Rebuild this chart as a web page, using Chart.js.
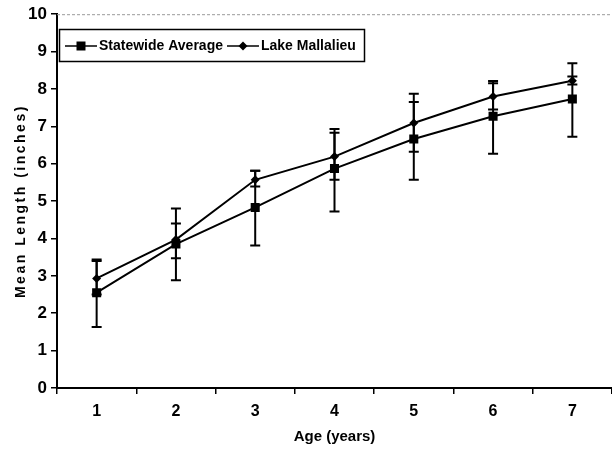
<!DOCTYPE html>
<html>
<head>
<meta charset="utf-8">
<script src="https://cdn.jsdelivr.net/npm/chart.js@4"></script>
<style>
html,body{margin:0;padding:0;background:#fff;}
#wrap{width:612px;height:452px;position:relative;}
</style>
</head>
<body>
<div id="wrap"><canvas id="c" width="612" height="452"></canvas></div>
<script>
const ages = ['1','2','3','4','5','6','7'];
const yTicks = [0,1,2,3,4,5,6,7,8,9,10];
const statewide = [2.55, 3.85, 4.83, 5.87, 6.66, 7.27, 7.73];
const statewideLow = [1.63, 2.88, 3.81, 4.72, 5.57, 6.27, 6.72];
const statewideHigh = [3.44, 4.80, 5.81, 6.93, 7.87, 8.21, 8.69];
const lake = [2.93, 3.97, 5.57, 6.19, 7.09, 7.80, 8.22];
const lakeLow = [2.50, 3.47, 5.39, 5.57, 6.32, 7.45, 8.12];
const lakeHigh = [3.40, 4.40, 5.81, 6.83, 7.65, 8.15, 8.33];

const FONT = '"Liberation Sans", Arial, sans-serif';

const errorBars = {
  id: 'errorBars',
  afterDatasetsDraw(chart) {
    const ctx = chart.ctx;
    const y = chart.scales.y;
    chart.data.datasets.forEach((ds, i) => {
      const meta = chart.getDatasetMeta(i);
      meta.data.forEach((pt, j) => {
        const yl = y.getPixelForValue(ds.errLow[j]);
        const yh = y.getPixelForValue(ds.errHigh[j]);
        ctx.save();
        ctx.strokeStyle = '#000';
        ctx.lineWidth = 2;
        ctx.beginPath();
        ctx.moveTo(pt.x, yl); ctx.lineTo(pt.x, yh);
        ctx.moveTo(pt.x - 5, yl); ctx.lineTo(pt.x + 5, yl);
        ctx.moveTo(pt.x - 5, yh); ctx.lineTo(pt.x + 5, yh);
        ctx.stroke();
        ctx.restore();
      });
    });
  }
};

function drawMarker(ctx, style, x, y) {
  ctx.beginPath();
  if (style === 'rect') {
    ctx.rect(x - 4.5, y - 4.5, 9, 9);
  } else {
    ctx.moveTo(x, y - 4.5); ctx.lineTo(x + 4.5, y); ctx.lineTo(x, y + 4.5); ctx.lineTo(x - 4.5, y); ctx.closePath();
  }
  ctx.fill();
}

const decor = {
  id: 'decor',
  afterDraw(chart) {
    const ctx = chart.ctx;
    const a = chart.chartArea;
    ctx.save();
    // faint top border
    ctx.strokeStyle = '#9a9a9a';
    ctx.lineWidth = 1;
    ctx.setLineDash([3, 2]);
    ctx.beginPath(); ctx.moveTo(a.left, a.top + 0.5); ctx.lineTo(612, a.top + 0.5); ctx.stroke();
    ctx.setLineDash([]);
    // y title with letter spacing
    ctx.fillStyle = '#000';
    ctx.font = 'bold 14px ' + FONT;
    if ('letterSpacing' in ctx) ctx.letterSpacing = '2.5px';
    ctx.translate(21, (a.top + a.bottom) / 2);
    ctx.rotate(-Math.PI / 2);
    ctx.textAlign = 'center';
    ctx.textBaseline = 'middle';
    ctx.fillText('Mean Length (inches)', 0, 0);
    ctx.restore();

    // legend
    ctx.save();
    const bx = 59, by = 29, bw = 305, bh = 32;
    ctx.fillStyle = '#fff';
    ctx.fillRect(bx, by, bw, bh);
    ctx.strokeStyle = '#000';
    ctx.lineWidth = 1.5;
    ctx.strokeRect(bx + 0.5, by + 0.5, bw, bh);
    const cy = by + bh / 2 + 1;
    ctx.font = 'bold 14px ' + FONT;
    ctx.textBaseline = 'middle';
    ctx.fillStyle = '#000';
    let x = bx + 6;
    chart.data.datasets.forEach((ds, i) => {
      ctx.lineWidth = 1.5;
      ctx.beginPath(); ctx.moveTo(x, cy); ctx.lineTo(x + 32, cy); ctx.stroke();
      drawMarker(ctx, ds.pointStyle, x + 16, cy);
      ctx.fillText(ds.label, x + 34, cy);
      x += 34 + ctx.measureText(ds.label).width + 4;
    });
    ctx.restore();
  }
};

new Chart(document.getElementById('c'), {
  type: 'line',
  data: {
    labels: ages,
    datasets: [
      { label: 'Statewide Average', data: statewide, errLow: statewideLow, errHigh: statewideHigh,
        borderColor: '#000', backgroundColor: '#000', borderWidth: 2, pointStyle: 'rect', pointRadius: 6.4,
        pointBorderWidth: 0, tension: 0 },
      { label: 'Lake Mallalieu', data: lake, errLow: lakeLow, errHigh: lakeHigh,
        borderColor: '#000', backgroundColor: '#000', borderWidth: 2, pointStyle: 'rectRot', pointRadius: 4.5,
        pointBorderWidth: 0, tension: 0 }
    ]
  },
  options: {
    responsive: false,
    animation: false,
    devicePixelRatio: 1,
    layout: { autoPadding: false, padding: { top: 13, right: 0, left: 0, bottom: 0 } },
    plugins: { legend: { display: false }, tooltip: { enabled: false } },
    scales: {
      x: {
        offset: true,
        grid: { offset: true, drawOnChartArea: false, drawTicks: true, tickLength: 6, color: '#000', lineWidth: 1.5 },
        border: { color: '#000', width: 2 },
        ticks: { color: '#000', font: { family: FONT, size: 16, weight: 'bold' }, padding: 8, maxRotation: 0 },
        title: { display: true, text: 'Age (years)', color: '#000', font: { family: FONT, size: 15, weight: 'bold' }, padding: { top: 0, bottom: 6 } },
        afterFit(s) { s.height = 64; s.paddingRight = 0; s.paddingLeft = 0; }
      },
      y: {
        min: 0, max: 10,
        afterBuildTicks(s) { s.ticks = yTicks.map(v => ({ value: v })); },
        grid: { drawOnChartArea: false, drawTicks: true, tickLength: 6, color: '#000', lineWidth: 1.5 },
        border: { color: '#000', width: 2 },
        ticks: { color: '#000', font: { family: FONT, size: 17, weight: 'bold' }, padding: 4 },
        afterFit(s) { s.width = 57; }
      }
    }
  },
  plugins: [errorBars, decor]
});
</script>
</body>
</html>
